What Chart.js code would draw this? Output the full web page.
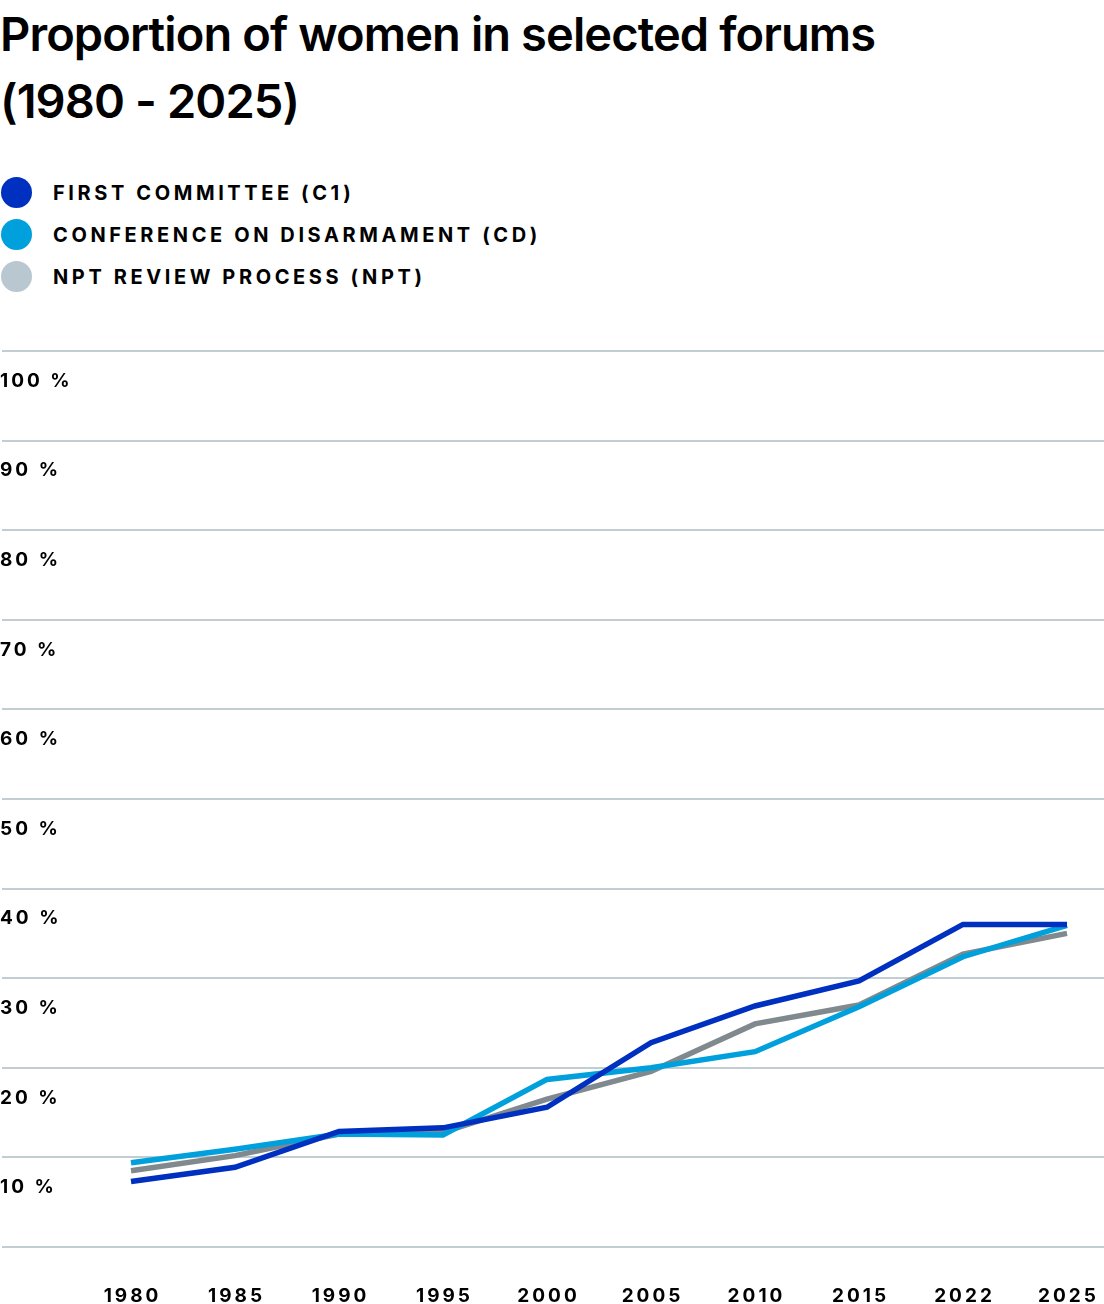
<!DOCTYPE html>
<html>
<head>
<meta charset="utf-8">
<script src="https://cdn.jsdelivr.net/npm/chart.js@4.4.1/dist/chart.umd.min.js"></script>
<style>
  html, body { margin: 0; padding: 0; background: #fff; overflow: hidden; }
  body { width: 1104px; height: 1304px; position: relative; font-family: Inter, "Liberation Sans", sans-serif; color: #000; }
  h1 { position: absolute; left: 0; top: 0px; margin: 0; font-size: 47px; font-weight: 600; line-height: 67px; letter-spacing: -0.9px; }
  .legend { position: absolute; left: 0; top: 176px; }
  .item { height: 42px; display: flex; align-items: center; position: relative; }
  .dot { position: absolute; left: 1px; top: 1px; width: 31px; height: 31px; border-radius: 50%; }
  .item span { position: absolute; left: 53px; top: 5px; font-size: 20px; font-weight: 700; letter-spacing: 3.6px; white-space: nowrap; }
  #wrap { position: absolute; left: 0; top: 340px; width: 1104px; height: 964px; }
</style>
</head>
<body>
<h1>Proportion of women in selected forums<br>(1980 - 2025)</h1>
<div class="legend" id="legend"></div>
<div id="wrap"><canvas id="line-chart"></canvas></div>
<script>
// data
var years = ['1980','1985','1990','1995','2000','2005','2010','2015','2022','2025'];
var firstCommittee = [7.3, 8.9, 12.9, 13.3, 15.6, 22.8, 26.9, 29.7, 36.0, 36.0];
var conferenceDisarmament = [9.4, 10.9, 12.6, 12.5, 18.7, 20.0, 21.8, 26.8, 32.4, 35.9];
var nptReview = [8.5, 10.2, 12.6, 12.8, 16.5, 19.6, 24.9, 27.0, 32.7, 35.0];
var yTicks = [10, 20, 30, 40, 50, 60, 70, 80, 90, 100];
var gridValues = [0, 10, 20, 30, 40, 50, 60, 70, 80, 90, 100];

var seriesNames = ['FIRST COMMITTEE (C1)', 'CONFERENCE ON DISARMAMENT (CD)', 'NPT REVIEW PROCESS (NPT)'];
var lineColors = ['#0030c0', '#00a0dc', '#7f898e'];
var legendColors = ['#0030c0', '#00a0dc', '#b9c7d0'];

// html legend
var legend = document.getElementById('legend');
seriesNames.forEach(function(name, i) {
  var row = document.createElement('div');
  row.className = 'item';
  row.innerHTML = '<div class="dot" style="background:' + legendColors[i] + '"></div><span>' + name + '</span>';
  legend.appendChild(row);
});

// grid lines across the full width, tick labels under their lines
var customAxes = {
  id: 'customAxes',
  beforeDatasetsDraw: function(chart) {
    var ctx = chart.ctx, y = chart.scales.y;
    ctx.save();
    ctx.strokeStyle = '#c2ccd3';
    ctx.lineWidth = 2;
    gridValues.forEach(function(v) {
      var py = Math.round(y.getPixelForValue(v));
      ctx.beginPath();
      ctx.moveTo(2, py);
      ctx.lineTo(chart.width, py);
      ctx.stroke();
    });
    ctx.restore();
  },
  afterDraw: function(chart) {
    var ctx = chart.ctx, x = chart.scales.x, y = chart.scales.y;
    ctx.save();
    ctx.fillStyle = '#000';
    ctx.font = '700 19px Inter, "Liberation Sans", sans-serif';
    ctx.letterSpacing = '3px';
    ctx.textBaseline = 'middle';
    ctx.textAlign = 'left';
    yTicks.forEach(function(v) {
      ctx.fillText(v + ' %', 0, y.getPixelForValue(v) + 30);
    });
    ctx.textAlign = 'center';
    years.forEach(function(lab, i) {
      ctx.fillText(lab, x.getPixelForValue(i) + 1.5, y.getPixelForValue(0) + 49);
    });
    ctx.restore();
  }
};

function lineChart() {
  var el = document.getElementById('line-chart');
  new Chart(el, {
    type: 'line',
    data: {
      labels: years,
      datasets: [
        { label: seriesNames[0], data: firstCommittee, borderColor: lineColors[0] },
        { label: seriesNames[1], data: conferenceDisarmament, borderColor: lineColors[1] },
        { label: seriesNames[2], data: nptReview, borderColor: lineColors[2] }
      ]
    },
    options: {
      responsive: true,
      maintainAspectRatio: false,
      animation: false,
      layout: { padding: { left: 123, right: 37, top: 11, bottom: 49 } },
      elements: {
        line: { borderWidth: 5.5, tension: 0, fill: false, borderJoinStyle: 'miter' },
        point: { radius: 0, hoverRadius: 0 }
      },
      plugins: { legend: { display: false }, title: { display: false }, tooltip: { enabled: false } },
      scales: {
        x: { type: 'category', offset: false, grid: { display: false }, border: { display: false }, ticks: { display: false } },
        y: { min: 0, max: 100, grid: { display: false }, border: { display: false }, ticks: { display: false } }
      }
    },
    plugins: [customAxes]
  });
}

lineChart();
</script>
</body>
</html>
